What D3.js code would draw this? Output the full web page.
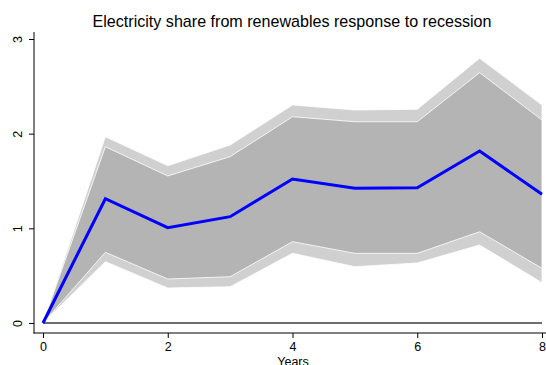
<!DOCTYPE html>
<html>
<head>
<meta charset="utf-8">
<script src="https://cdn.jsdelivr.net/npm/d3@7"></script>
<style>
  body { margin: 0; background: #fff; }
  text { font-family: "Liberation Sans", Arial, sans-serif; }
</style>
</head>
<body>
<div id="chart"></div>
<script>
// impulse response
const years = [0, 1, 2, 3, 4, 5, 6, 7, 8];
const irf = [0, 1.313, 1.007, 1.123, 1.521, 1.423, 1.429, 1.817, 1.359];
const innerUpper = [0, 1.862, 1.553, 1.757, 2.179, 2.126, 2.126, 2.644, 2.144];
const innerLower = [0, 0.747, 0.465, 0.489, 0.859, 0.736, 0.736, 0.964, 0.578];
const outerUpper = [0, 1.968, 1.662, 1.880, 2.303, 2.250, 2.257, 2.796, 2.303];
const outerLower = [0, 0.648, 0.370, 0.383, 0.736, 0.595, 0.634, 0.824, 0.426];
const xTicks = [0, 2, 4, 6, 8];
const yTicks = [0, 1, 2, 3];

const width = 546, height = 365;

const svg = d3.select("#chart")
  .append("svg")
  .attr("width", width)
  .attr("height", height);

const x = d3.scaleLinear().domain([0, 8]).range([43, 542]);
const y = d3.scaleLinear().domain([0, 3]).range([323, 39]);

function band(upper, lower) {
  return d3.area()
    .x((d, i) => x(years[i]))
    .y0((d, i) => y(lower[i]))
    .y1((d, i) => y(upper[i]))(years);
}

// outer (wide) band
svg.append("path")
  .attr("d", band(outerUpper, outerLower))
  .attr("fill", "#d0d0d0")
  .attr("stroke", "#fff")
  .attr("stroke-width", 0.8);

// inner band
svg.append("path")
  .attr("d", band(innerUpper, innerLower))
  .attr("fill", "#b4b4b4")
  .attr("stroke", "#fff")
  .attr("stroke-width", 0.8);

// zero line
svg.append("line")
  .attr("x1", x(0)).attr("x2", x(8))
  .attr("y1", y(0)).attr("y2", y(0))
  .attr("stroke", "#6e6e6e")
  .attr("stroke-width", 2);

// response line
svg.append("path")
  .datum(irf)
  .attr("d", d3.line().x((d, i) => x(years[i])).y((d) => y(d)))
  .attr("fill", "none")
  .attr("stroke", "#0000ff")
  .attr("stroke-width", 3)
  .attr("stroke-linejoin", "miter");

// axes
const xAxis = svg.append("g")
  .attr("transform", "translate(0,333)")
  .call(d3.axisBottom(x).tickValues(xTicks).tickSize(5).tickPadding(4).tickFormat(d3.format("d")));
xAxis.select(".domain").remove();
xAxis.selectAll("line").attr("stroke", "#000");
xAxis.selectAll("text").attr("font-size", 12.5).attr("fill", "#000");

const yAxis = svg.append("g")
  .attr("transform", "translate(34,0)")
  .call(d3.axisLeft(y).tickValues(yTicks).tickSize(5).tickFormat(d3.format("d")));
yAxis.select(".domain").remove();
yAxis.selectAll("line").attr("stroke", "#000");
yAxis.selectAll("text")
  .attr("font-size", 12.5)
  .attr("fill", "#000")
  .attr("x", 0)
  .attr("y", 0)
  .attr("dy", 0)
  .attr("text-anchor", "middle")
  .attr("transform", "translate(-12.5,0) rotate(-90)");

svg.append("line")
  .attr("x1", 34).attr("x2", 34)
  .attr("y1", 32).attr("y2", 333.5)
  .attr("stroke", "#000");
svg.append("line")
  .attr("x1", 33.5).attr("x2", 546)
  .attr("y1", 333).attr("y2", 333)
  .attr("stroke", "#000");

// title and axis label
svg.append("text")
  .attr("x", 292)
  .attr("y", 27)
  .attr("text-anchor", "middle")
  .attr("font-size", 16.1)
  .text("Electricity share from renewables response to recession");

svg.append("text")
  .attr("x", 293)
  .attr("y", 365.5)
  .attr("text-anchor", "middle")
  .attr("font-size", 12.5)
  .text("Years");
</script>
</body>
</html>
